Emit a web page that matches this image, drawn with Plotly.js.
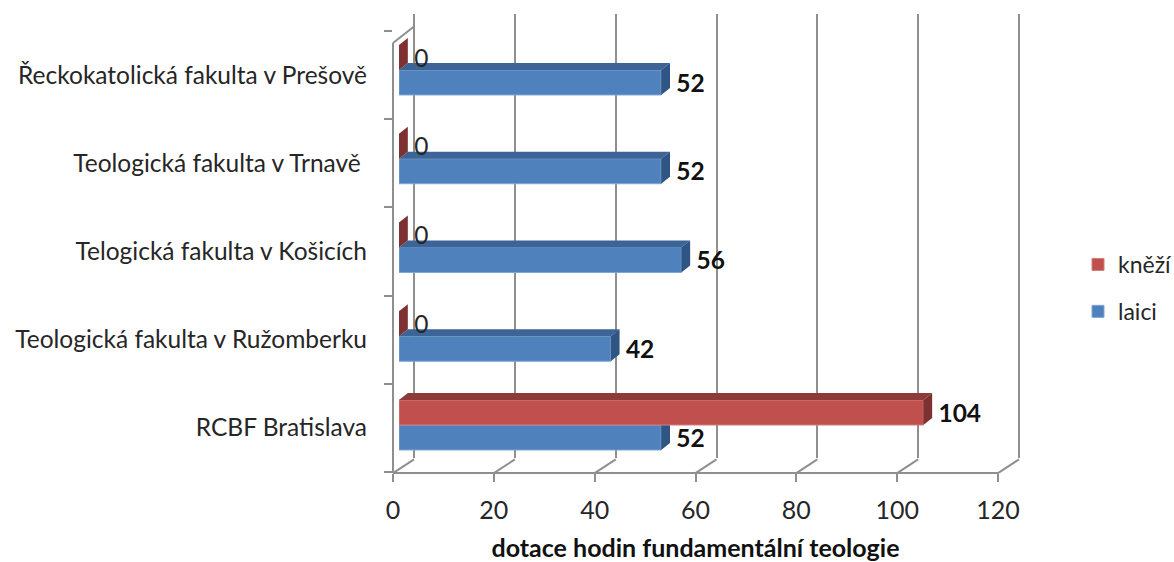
<!DOCTYPE html>
<html><head><meta charset="utf-8">
<script src="https://cdn.plot.ly/plotly-3.0.1.min.js"></script>
<style>html,body{margin:0;padding:0;background:#fff}</style></head>
<body><div id="chart" style="width:1174px;height:562px"></div>
<script>
const categories = ["RCBF Bratislava","Teologická fakulta v Ružomberku","Telogická fakulta v Košicích","Teologická fakulta v Trnavě\u00a0","Řeckokatolická fakulta v Prešově"];
const laici = [52,42,56,52,52];
const knezi = [104,0,0,0,0];
const xTicks = [0,20,40,60,80,100,120];
const axisTitle = "dotace hodin fundamentální teologie";

const W=1174,H=562;
const dx=v=>[v[0]/W,v[1]/W];
const dy=v=>[1-v[1]/H,1-v[0]/H];
const GRID="#8f8f8f", TXT="#262626", FONT="Lato, 'Open Sans', sans-serif";
const idx=categories.map((_,i)=>i);
const BW=0.2817, DX=1.75, DY=0.078, LBL=3;

function faces(vals,base){
  const side={x:[],y:[]},top={x:[],y:[]};
  vals.forEach((v,i)=>{
    const b=i+base,t=b+BW;
    side.x.push(v,v,v+DX,v+DX,v,null); side.y.push(b,t,t+DY,b+DY,b,null);
    top.x.push(0,v,v+DX,DX,0,null); top.y.push(t,t,t+DY,t+DY,t,null);
  });
  return {side,top};
}
function poly(f,color,xa,ya){return {type:"scatter",mode:"lines",x:f.x,y:f.y,fill:"toself",fillcolor:color,line:{width:0},hoverinfo:"skip",showlegend:false,xaxis:xa,yaxis:ya,cliponaxis:false};}
function bar(name,vals,offset,color,lineColor,xa,ya,rank){return {type:"bar",orientation:"h",name:name,x:vals,y:idx,width:BW,offset:offset,marker:{color:color,line:{color:lineColor,width:1}},xaxis:xa,yaxis:ya,legendgroup:name,legendrank:rank,cliponaxis:false};}
function labels(vals,base,xa,ya){return {type:"scatter",mode:"text",x:vals.map(v=>v+LBL),y:idx.map(i=>i+base-0.035),text:vals.map(String),textposition:"middle right",
  textfont:{family:FONT,size:24.5,color:vals.map(v=>v===0?TXT:"#111"),weight:vals.map(v=>v===0?400:700)},showlegend:false,hoverinfo:"skip",xaxis:xa,yaxis:ya,cliponaxis:false};}

const B=faces(laici,-BW), R=faces(knezi,0);

// floor diagonals, corner diagonal and the front vertical axis line
const diagX=[0,0,null],diagY=[-0.5,4.5,null];
xTicks.forEach(t=>{diagX.push(t,t+4.167,null);diagY.push(-0.5,-0.341,null);});
diagX.push(0,4.167,null);diagY.push(4.5,4.693,null);

const traces=[
 {type:"scatter",mode:"lines",x:[0],y:[0],xaxis:"x",yaxis:"y",showlegend:false,hoverinfo:"skip",line:{width:0}},
 {type:"scatter",mode:"lines",x:[0],y:[0],xaxis:"x2",yaxis:"y2",showlegend:false,hoverinfo:"skip",line:{width:0}},
 {type:"scatter",mode:"lines",x:diagX,y:diagY,line:{color:GRID,width:2},xaxis:"x5",yaxis:"y5",showlegend:false,hoverinfo:"skip",cliponaxis:false},
 bar("laici",laici,-BW,"#4f81bd","#7ea6d6","x3","y3",2),
 poly(B.top,"#3c6496","x3","y3"),
 poly(B.side,"#2f5585","x3","y3"),
 bar("kněží",knezi,0,"#c0504d","#d27e7b","x4","y4",1),
 poly(R.top,"#8d3b39","x4","y4"),
 poly(R.side,"#7d3130","x4","y4"),
 labels(laici,-BW/2,"x4","y4"),
 labels(knezi,BW/2,"x4","y4")
];
const hidden={showgrid:false,zeroline:false,showticklabels:false,ticks:"",showline:false};
const barX={...hidden,range:[0,120],domain:dx([399,1004])};
const barY={...hidden,range:[-0.5,4.5],domain:dy([25.6,469.4])};
const layout={
 width:W,height:H,margin:{l:0,r:0,t:0,b:0,autoexpand:false},paper_bgcolor:"#fff",plot_bgcolor:"rgba(0,0,0,0)",
 barmode:"overlay",showlegend:true,
 font:{family:FONT,color:TXT,size:23},
 xaxis:{range:[-2,122],domain:dx([403.92,1029.08]),anchor:"y",tickvals:xTicks,showgrid:true,gridcolor:GRID,gridwidth:2,zeroline:false,showticklabels:false,ticks:"",showline:false},
 yaxis:{...hidden,range:[0,1],domain:dy([14,458]),anchor:"x"},
 xaxis2:{range:[0,120],domain:dx([393,998]),anchor:"y2",tickvals:xTicks,ticks:"outside",ticklen:8,tickwidth:2,tickcolor:GRID,showline:true,linecolor:GRID,linewidth:2,showgrid:false,zeroline:false,
   tickfont:{family:FONT,size:25,color:TXT},ticklabelstandoff:7,title:{text:axisTitle,font:{family:FONT,size:25,color:"#111",weight:700},standoff:19}},
 yaxis2:{range:[-0.5,4.5],domain:dy([31,472]),anchor:"x2",tickvals:idx,ticktext:categories,ticks:"",ticklabelstandoff:25,tickfont:{family:FONT,size:24.5,color:TXT},showline:false,showgrid:false,zeroline:false,
   minor:{tickvals:[-0.5,0.5,1.5,2.5,3.5,4.5],ticks:"outside",ticklen:8,tickwidth:2,tickcolor:GRID,showgrid:false}},
 xaxis3:{...barX,anchor:"y3"},yaxis3:{...barY,anchor:"x3"},
 xaxis4:{...barX,anchor:"y4"},yaxis4:{...barY,anchor:"x4"},
 xaxis5:{...hidden,range:[-10,130],domain:dx([342.6,1048.4]),anchor:"y5"},
 yaxis5:{...hidden,range:[-1,5],domain:dy([-13.1,516.1]).map(v=>Math.min(1,v)),anchor:"x5"},
 legend:{x:1078/W,y:1-243/H,xanchor:"left",yanchor:"top",font:{family:FONT,size:23,color:TXT},tracegroupgap:14,itemwidth:30,bgcolor:"rgba(0,0,0,0)"}
};
Plotly.newPlot("chart",traces,layout,{displayModeBar:false});
</script></body></html>
